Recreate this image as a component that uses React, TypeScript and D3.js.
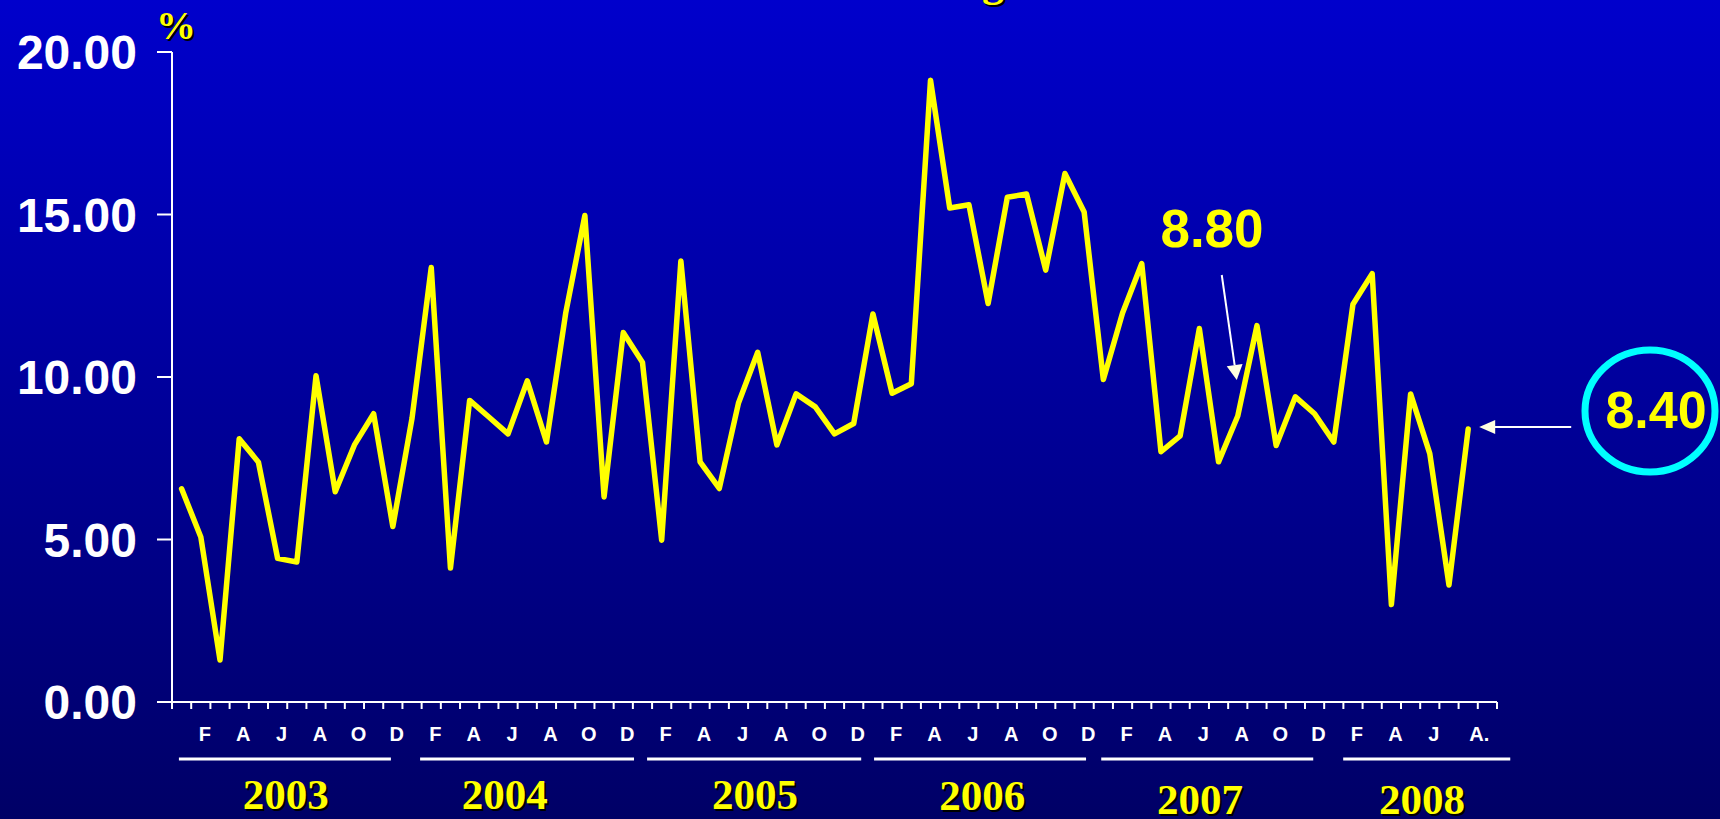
import React from "react";
import * as d3 from "d3";

const monthLetters = ["J", "F", "M", "A", "M", "J", "J", "A", "S", "O", "N", "D"];
const years = ["2003", "2004", "2005", "2006", "2007", "2008"];

const values2003 = [6.56, 5.08, 1.29, 8.1, 7.38, 4.42, 4.31, 10.04, 6.47, 7.91, 8.87, 5.4];
const values2004 = [8.73, 13.37, 4.12, 9.28, 8.77, 8.25, 9.88, 8.0, 11.96, 14.97, 6.31, 11.37];
const values2005 = [10.45, 4.98, 13.57, 7.39, 6.57, 9.2, 10.76, 7.91, 9.48, 9.08, 8.25, 8.57];
const values2006 = [11.94, 9.5, 9.79, 19.13, 15.2, 15.3, 12.26, 15.53, 15.63, 13.29, 16.26, 15.08];
const values2007 = [9.92, 11.97, 13.49, 7.7, 8.19, 11.49, 7.39, 8.8, 11.58, 7.89, 9.39, 8.87];
const values2008 = [8.0, 12.24, 13.18, 3.0, 9.48, 7.64, 3.6, 8.4];

const yTicks = [0, 5, 10, 15, 20];
// year underline spans and label centres, in month units from Jan 2003
const yearSpans: [number, number][] = [
  [0.36, 11.4], [12.92, 24.06], [24.74, 35.89], [36.56, 47.6], [48.39, 59.43], [60.99, 69.69],
];
const yearLabelPos = [5.93, 17.33, 30.36, 42.19, 53.54, 65.1];
const yearLabelDrop = [0, 0, 0, 1, 5, 5];

const annotationMid = "8.80";
const annotationLast = "8.40";
const titleText = "Inflación a Agosto del 2008";

const W = 1720;
const H = 819;

export default function App() {
  const series = [...values2003, ...values2004, ...values2005, ...values2006, ...values2007, ...values2008];
  const nBands = 69;
  const x0 = 172;
  const x1 = 1497;
  const mx = d3.scaleLinear().domain([0, nBands]).range([x0, x1]);
  const bw = mx(1) - mx(0);
  const xc = (i: number) => mx(i) + bw / 2;
  const y = d3.scaleLinear().domain([0, 20]).range([702, 52]);
  const line = d3
    .line<number>()
    .x((_, i) => xc(i))
    .y((d) => y(d));
  const fmt = d3.format(".2f");
  const sansBold = "'Liberation Sans', Arial, sans-serif";
  const serif = "'Liberation Serif', 'Times New Roman', serif";

  const lastI = series.length - 1;
  const labels: { i: number; t: string }[] = [];
  series.forEach((_, i) => {
    const m = i % 12;
    if (m % 2 === 1 || i === lastI) labels.push({ i, t: monthLetters[m] + (i === lastI ? "." : "") });
  });

  const iMid = 55; // Aug 2007
  const tipMid = { x: xc(iMid) - 1, y: y(series[iMid]) - 36 };
  const tailMid = { x: tipMid.x - 15, y: tipMid.y - 105 };
  const dx = tipMid.x - tailMid.x;
  const dy = tipMid.y - tailMid.y;
  const len = Math.hypot(dx, dy);
  const ux = dx / len;
  const uy = dy / len;
  const headL = 15;
  const headW = 8;
  const baseMid = { x: tipMid.x - ux * headL, y: tipMid.y - uy * headL };

  const tipLast = { x: xc(lastI) + 11, y: y(series[lastI]) - 2 };
  const tailLastX = tipLast.x + 92;

  const ellipse = { cx: 1650, cy: 411, rx: 65, ry: 61 };

  return (
    <>
      <style>{`body{margin:0;overflow:hidden}`}</style>
      <svg width={W} height={H} style={{ display: "block" }}>
        <defs>
          <linearGradient id="bg" x1="0" y1="0" x2="0" y2="1">
            <stop offset="0%" stopColor="#0000cc" />
            <stop offset="100%" stopColor="#000066" />
          </linearGradient>
        </defs>
        <rect x={0} y={0} width={W} height={H} fill="url(#bg)" />

        {/* cut-off title (only descenders visible, as in the reference) */}
        <text x={742} y={-2} fontFamily={serif} fontWeight="bold" fontSize={44} fill="#000">
          {titleText}
        </text>
        <text x={740} y={-4} fontFamily={serif} fontWeight="bold" fontSize={44} fill="#ffff00">
          {titleText}
        </text>

        {/* % unit */}
        <text x={158} y={41} fontFamily={serif} fontWeight="bold" fontSize={40} fill="#000">%</text>
        <text x={156} y={39} fontFamily={serif} fontWeight="bold" fontSize={40} fill="#ffff00">%</text>

        {/* y axis */}
        <line x1={x0} x2={x0} y1={y(20)} y2={y(0)} stroke="#fff" strokeWidth={2} />
        {yTicks.map((t) => (
          <g key={t}>
            <line x1={x0 - 15} x2={x0} y1={y(t)} y2={y(t)} stroke="#fff" strokeWidth={2} />
            <text
              x={137}
              y={y(t) + 17}
              textAnchor="end"
              fontFamily={sansBold}
              fontWeight="bold"
              fontSize={48}
              fill="#fff"
            >
              {fmt(t)}
            </text>
          </g>
        ))}

        {/* x axis */}
        <line x1={x0 - 15} x2={x1} y1={y(0)} y2={y(0)} stroke="#fff" strokeWidth={2} />
        {d3.range(nBands + 1).map((k) => (
          <line key={k} x1={mx(k)} x2={mx(k)} y1={y(0)} y2={y(0) + 7} stroke="#fff" strokeWidth={2} />
        ))}
        {labels.map((l) => (
          <text
            key={l.i}
            x={xc(l.i) + (l.t.length > 1 ? 11 : 4)}
            y={741}
            textAnchor="middle"
            fontFamily={sansBold}
            fontWeight="bold"
            fontSize={20}
            fill="#fff"
          >
            {l.t}
          </text>
        ))}

        {/* year underlines & labels */}
        {years.map((yr, k) => (
          <g key={yr}>
            <line
              x1={mx(yearSpans[k][0])}
              x2={mx(yearSpans[k][1])}
              y1={759}
              y2={759}
              stroke="#fff"
              strokeWidth={3}
            />
            <text
              x={mx(yearLabelPos[k]) + 2}
              y={811 + yearLabelDrop[k]}
              textAnchor="middle"
              fontFamily={serif}
              fontWeight="bold"
              fontSize={43}
              fill="#000"
            >
              {yr}
            </text>
            <text
              x={mx(yearLabelPos[k])}
              y={809 + yearLabelDrop[k]}
              textAnchor="middle"
              fontFamily={serif}
              fontWeight="bold"
              fontSize={43}
              fill="#ffff00"
            >
              {yr}
            </text>
          </g>
        ))}

        {/* data line */}
        <path
          d={line(series) || ""}
          fill="none"
          stroke="#ffff00"
          strokeWidth={5.5}
          strokeLinejoin="round"
          strokeLinecap="round"
        />

        {/* 8.80 annotation */}
        <text
          x={1212}
          y={247}
          textAnchor="middle"
          fontFamily={sansBold}
          fontWeight="bold"
          fontSize={53}
          fill="#ffff00"
        >
          {annotationMid}
        </text>
        <line x1={tailMid.x} y1={tailMid.y} x2={baseMid.x} y2={baseMid.y} stroke="#fff" strokeWidth={2} />
        <polygon
          points={`${tipMid.x},${tipMid.y} ${baseMid.x - uy * headW},${baseMid.y + ux * headW} ${baseMid.x + uy * headW},${baseMid.y - ux * headW}`}
          fill="#ffffe0"
        />

        {/* 8.40 annotation */}
        <line x1={tipLast.x + 15} x2={tailLastX} y1={tipLast.y} y2={tipLast.y} stroke="#fff" strokeWidth={2} />
        <polygon
          points={`${tipLast.x},${tipLast.y} ${tipLast.x + 16},${tipLast.y - 7} ${tipLast.x + 16},${tipLast.y + 7}`}
          fill="#ffffe0"
        />
        <ellipse cx={ellipse.cx} cy={ellipse.cy} rx={ellipse.rx} ry={ellipse.ry} fill="none" stroke="#00ffff" strokeWidth={7} />
        <text
          x={1656}
          y={428}
          textAnchor="middle"
          fontFamily={sansBold}
          fontWeight="bold"
          fontSize={52}
          fill="#ffff00"
        >
          {annotationLast}
        </text>
      </svg>
    </>
  );
}
